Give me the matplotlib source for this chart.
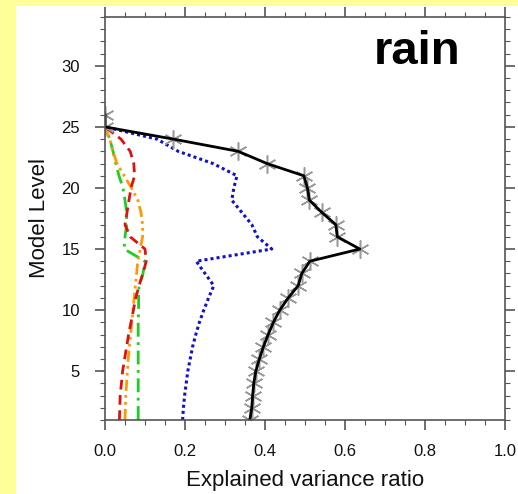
import numpy as np
import matplotlib
matplotlib.use("Agg")
import matplotlib.pyplot as plt
from matplotlib.ticker import MultipleLocator

levels = list(range(1, 27))

# explained variance ratio per model level
total = [0.362, 0.367, 0.369, 0.372, 0.377, 0.386, 0.396, 0.408, 0.421, 0.437,
         0.458, 0.483, 0.492, 0.512, 0.637, 0.581, 0.577, 0.542, 0.511, 0.506,
         0.497, 0.405, 0.333, 0.171, 0.0, 0.0]
blue = [0.194, 0.196, 0.199, 0.203, 0.207, 0.213, 0.219, 0.227, 0.236, 0.247,
        0.259, 0.272, 0.250, 0.228, 0.417, 0.381, 0.367, 0.342, 0.317, 0.322,
        0.330, 0.270, 0.183, 0.130, 0.0]
red = [0.036, 0.037, 0.038, 0.041, 0.044, 0.049, 0.054, 0.059, 0.065, 0.071,
       0.077, 0.085, 0.095, 0.103, 0.100, 0.063, 0.050, 0.055, 0.060, 0.065,
       0.074, 0.072, 0.063, 0.040, 0.0]
orange = [0.050, 0.051, 0.052, 0.054, 0.056, 0.058, 0.061, 0.064, 0.067, 0.070,
          0.073, 0.076, 0.079, 0.082, 0.088, 0.094, 0.094, 0.090, 0.082, 0.066,
          0.048, 0.030, 0.020, 0.012, 0.0]
green = [0.083, 0.083, 0.083, 0.083, 0.083, 0.083, 0.083, 0.083, 0.083, 0.084,
         0.084, 0.085, 0.095, 0.100, 0.048, 0.050, 0.054, 0.054, 0.050, 0.045,
         0.035, 0.027, 0.020, 0.012, 0.0]

plt.rcParams['font.family'] = ['Liberation Sans', 'DejaVu Sans']

fig = plt.figure(figsize=(5.18, 4.94), dpi=100)
fig.patch.set_facecolor('#ffff99')
# white panel on the yellow page
fig.patches.append(plt.Rectangle((16 / 518, 0), 1, 1 - 6 / 494, transform=fig.transFigure,
                                 facecolor='white', edgecolor='none', zorder=-5))

ax = fig.add_axes([105 / 518, 74 / 494, 400 / 518, 403 / 494])
ax.set_facecolor('white')

lv = levels[:25]
ax.plot(green, lv, color='#22cc22', lw=2.0, linestyle=(0, (5, 2, 1, 2)))
ax.plot(orange, lv, color='#ff9900', lw=2.0, linestyle=(0, (4, 1.5, 1, 1.5, 1, 1.5)))
ax.plot(red, lv, color='#dd1111', lw=2.0, linestyle=(0, (3.5, 2)))
ax.plot(blue, lv, color='#1111cc', lw=2.2, linestyle=(0, (1, 1)))
ax.plot(total, levels, linestyle='none', marker=(6, 2, 0), markersize=13,
        markeredgecolor='#999999', markeredgewidth=1.1)
ax.plot(total, levels, color='black', lw=2)

ax.set_xlim(0, 1)
ax.set_ylim(1, 34)
ax.xaxis.set_minor_locator(MultipleLocator(0.05))
ax.yaxis.set_minor_locator(MultipleLocator(1))
ax.set_yticks([5, 10, 15, 20, 25, 30])
ax.set_xticks([0, 0.2, 0.4, 0.6, 0.8, 1.0])
ax.set_xticklabels(['0.0', '0.2', '0.4', '0.6', '0.8', '1.0'])

ax.tick_params(which='both', direction='out', top=True, right=True,
               color='#555555', labelsize=12, labelcolor='#111111')
ax.tick_params(which='major', length=7, width=1.2)
ax.tick_params(which='minor', length=3.5, width=0.8)
ax.tick_params(axis='x', which='major', pad=10)
ax.tick_params(axis='y', which='major', pad=11)
for s in ax.spines.values():
    s.set_color('#555555')
    s.set_linewidth(1.2)

ax.set_xlabel('Explained variance ratio', fontsize=16, labelpad=8, color='#111111')
ax.set_ylabel('Model Level', fontsize=16, labelpad=8, color='#111111')
ax.text(0.8875, 0.913, 'rain', transform=ax.transAxes, ha='right', va='center',
        fontsize=34, fontweight='bold')

fig.savefig('out.png', dpi=100, facecolor=fig.get_facecolor())
